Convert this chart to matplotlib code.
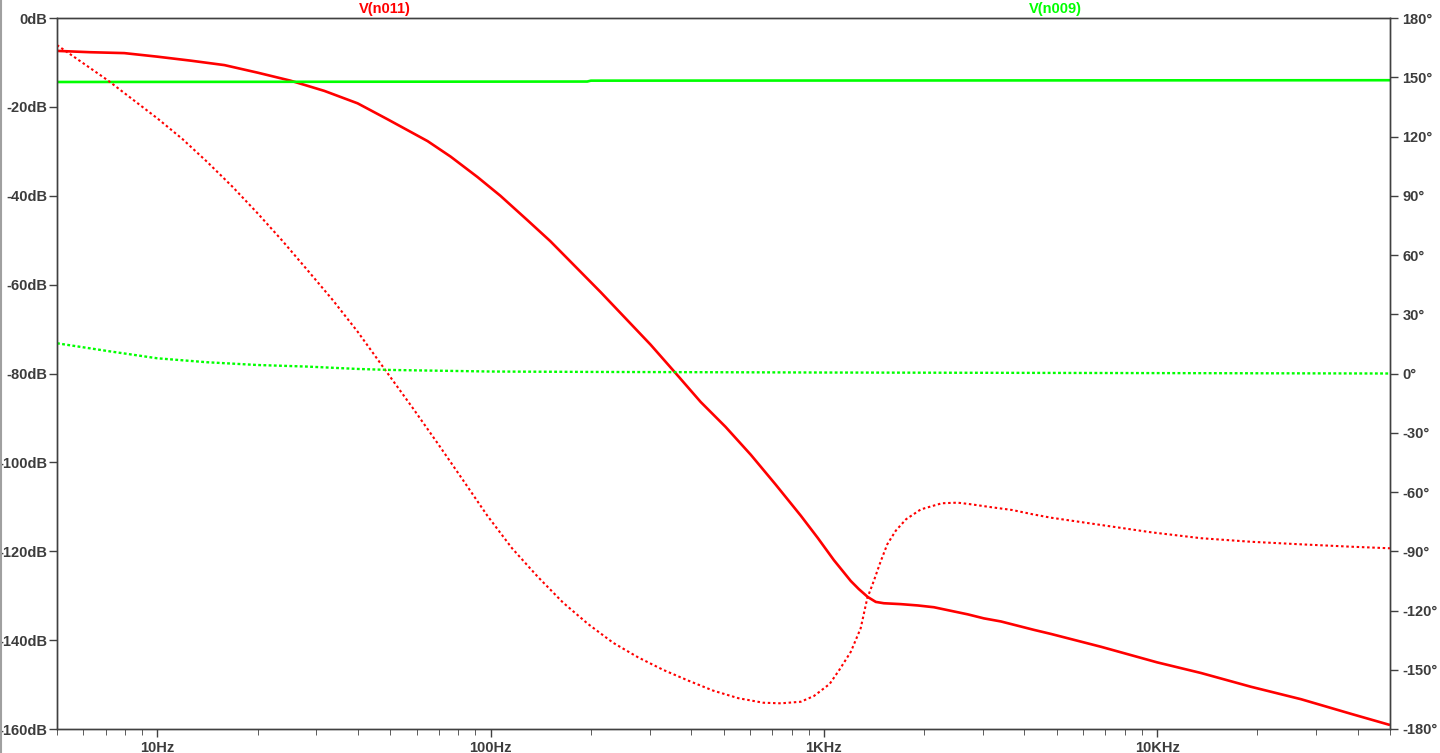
import matplotlib
matplotlib.use('Agg')
import matplotlib.pyplot as plt
from matplotlib.ticker import FixedLocator, NullFormatter
from matplotlib.lines import Line2D

# ─── DATA ───────────────────────────────────────────────────────────────────
# V(n011) magnitude [dB]
n011_mag_f = [5.0, 6.29, 7.96, 10, 12.6, 15.9, 20.0, 25.1, 31.7, 39.9, 49.1, 64.7, 75.9, 91.4,
              107, 129, 151, 214, 302, 358, 427, 507, 604, 717, 853, 959, 1072, 1205, 1273,
              1355, 1432, 1514, 1702, 1915, 2140, 2405, 2704, 3020, 3400, 4275, 4800, 6790,
              10000, 13550, 19140, 27050, 38250, 50000]
n011_mag = [-7.4, -7.7, -7.9, -8.7, -9.6, -10.6, -12.3, -14.1, -16.4, -19.2, -22.8, -27.7, -31.2,
            -35.8, -40.0, -45.5, -50.2, -61.7, -73.5, -79.8, -86.4, -92.0, -98.3, -105.0,
            -112.0, -117.0, -122.0, -126.7, -128.5, -130.3, -131.4, -131.7, -131.9, -132.2,
            -132.6, -133.4, -134.2, -135.1, -135.8, -137.7, -138.6, -141.5, -145.0, -147.4,
            -150.5, -153.3, -156.6, -159.1]

# V(n011) phase [deg]
n011_ph_f = [5.0, 5.75, 7.08, 8.4, 10, 11.9, 14.1, 16.8, 20, 23.7, 28.2, 33.6, 39.9, 49.1, 58.2,
             69.6, 82.6, 97.8, 116, 138.5, 165, 196, 233, 277, 330, 392, 466, 554, 658, 743,
             853, 934, 1041, 1118, 1205, 1290, 1350, 1410, 1480, 1550, 1644, 1765, 1955, 2260,
             2520, 2760, 3180, 3670, 4240, 4800, 6790, 9600, 13550, 19140, 27050, 38250, 50000]
n011_ph = [166.3, 159.2, 148.6, 139.0, 129.2, 118.7, 107.2, 94.6, 81.1, 67.3, 52.4, 37.2, 21.2,
           0.1, -17.1, -35.7, -53.9, -72.0, -88.5, -102.9, -116.0, -126.8, -136.3, -143.7,
           -150.1, -155.5, -160.6, -164.4, -166.7, -167.0, -166.2, -163.3, -157.2, -149.6,
           -140.9, -129.0, -113.8, -105.4, -95.3, -86.5, -79.6, -73.8, -68.8, -65.7, -65.4,
           -66.2, -67.7, -69.1, -71.3, -73.0, -76.7, -80.4, -83.4, -85.2, -86.5, -87.7, -88.5]

# V(n009) magnitude [dB] and phase [deg]
n009_mag_f = [5.0, 195, 200, 50000]
n009_mag = [-14.4, -14.3, -14.1, -14.0]
n009_ph_f = [5.0, 7.08, 10, 14.1, 20, 28.2, 40, 50, 100, 200, 1000, 10000, 50000]
n009_ph = [15.3, 11.4, 7.7, 5.7, 4.3, 3.5, 2.3, 1.8, 1.0, 0.8, 0.5, 0.2, 0.0]

db_ticks = [0, -20, -40, -60, -80, -100, -120, -140, -160]
deg_ticks = [180, 150, 120, 90, 60, 30, 0, -30, -60, -90, -120, -150, -180]
hz_ticks = [10, 100, 1000, 10000]
hz_labels = ['10Hz', '100Hz', '1KHz', '10KHz']

RED = '#ff0000'
GREEN = '#00ff00'
FRAME = '#404040'
TXT = '#3c3c3c'
FONT = 'Liberation Sans'

# ─── PLOT ───────────────────────────────────────────────────────────────────
fig = plt.figure(figsize=(14.4, 7.53), dpi=100)
ax = fig.add_axes([57/1440, 24/753, 1333/1440, 711/753])
ax2 = ax.twinx()

ax.plot(n011_mag_f, n011_mag, color=RED, lw=1.9, solid_capstyle='butt')
ax.plot(n009_mag_f, n009_mag, color=GREEN, lw=1.9, solid_capstyle='butt')
ax2.plot(n011_ph_f, n011_ph, color=RED, lw=1.5, linestyle=(0, (1.2, 1.3)))
ax2.plot(n009_ph_f, n009_ph, color=GREEN, lw=1.7, linestyle=(0, (1.2, 1.0)))

ax.set_xscale('log')
ax.set_xlim(5, 50000)
ax.set_ylim(-160, 0)
ax2.set_ylim(-180, 180)

ax.xaxis.set_major_locator(FixedLocator(hz_ticks))
ax.set_xticklabels(hz_labels)
minor = [m * d for d in [1, 10, 100, 1000, 10000] for m in range(2, 10)
         if 5 <= m * d <= 50000 and m * d not in hz_ticks]
ax.xaxis.set_minor_locator(FixedLocator(minor))
ax.xaxis.set_minor_formatter(NullFormatter())

ax.set_yticks(db_ticks)
ax.set_yticklabels([f'{v}dB' for v in db_ticks])
ax2.set_yticks(deg_ticks)
ax2.set_yticklabels([f'{v}\u00b0' for v in deg_ticks])

for a in (ax, ax2):
    for s in a.spines.values():
        s.set_color(FRAME)
        s.set_linewidth(1.0)
    a.tick_params(colors=FRAME, labelcolor=TXT, labelsize=10.5, width=1.0)
    for lab in a.get_xticklabels() + a.get_yticklabels():
        lab.set_fontfamily(FONT)
        lab.set_fontweight('bold')
ax.tick_params(axis='y', length=6, pad=1)
ax2.tick_params(axis='y', length=6, pad=3)
ax.tick_params(axis='x', which='major', length=6, pad=3)
ax.tick_params(axis='x', which='minor', length=4, color=FRAME)

fig.text(385/1440, 1 - 9/753, 'V(n011)', color=RED, ha='center', va='center',
         fontsize=10.5, fontweight='bold', family=FONT)
fig.text(1055/1440, 1 - 9/753, 'V(n009)', color=GREEN, ha='center', va='center',
         fontsize=10.5, fontweight='bold', family=FONT)

# window border on the left
fig.add_artist(Line2D([1/1440, 1/1440], [0, 1], color='#a0a0a0', lw=1.5,
                      transform=fig.transFigure))

fig.savefig('out.png', dpi=100, facecolor='white')
